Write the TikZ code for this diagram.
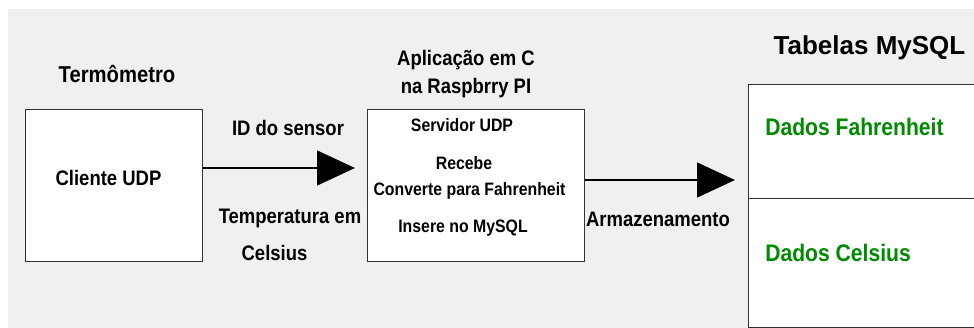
\documentclass[tikz,border=0pt]{standalone}
\usepackage{fontspec}
\setmainfont{Liberation Sans}[FakeStretch=0.88]
\newfontfamily\widefont{Liberation Sans}
\usetikzlibrary{arrows.meta, positioning}
\definecolor{cbg}{HTML}{F0F0F0}
\definecolor{cline}{HTML}{333333}
\definecolor{cgreen}{HTML}{008A00}
\tikzset{
  every picture/.style={font=\bfseries, x=0.75pt, y=-0.75pt},
  box/.style={draw=cline, fill=white, line width=1.1pt, anchor=north west, inner sep=0pt},
  flow/.style={-{Triangle[length=28.5pt, width=26pt]}, draw=black, line width=2pt},
  label/.style={font=\fontsize{15.75}{18}\selectfont\bfseries, anchor=base, inner sep=0pt},
  inner/.style={font=\fontsize{13.5}{16}\selectfont\bfseries, anchor=base, inner sep=0pt},
  title/.style={font=\fontsize{17.25}{20}\selectfont\bfseries, anchor=base, inner sep=0pt},
  tabtitle/.style={font=\widefont\fontsize{19.5}{22}\selectfont\bfseries, anchor=base, inner sep=0pt},
  data/.style={font=\fontsize{18}{21}\selectfont\bfseries, text=cgreen, anchor=base west, inner sep=0pt},
}

\begin{document}
\begin{tikzpicture}
  \useasboundingbox (0,0) rectangle (974,328);
  \clip (0,0) rectangle (974,328);
  \fill[cbg] (8,9) rectangle (974,328);

  \node[box, minimum width=132.75pt, minimum height=114pt] (client) at (25,109) {};
  \node[title] (termo) at (117,83) {Termômetro};
  \node[label] (clientlbl) at (108.5,185) {Cliente UDP};

  \node[box, minimum width=162.75pt, minimum height=114pt] (app) at (367,109) {};
  \node[label] (app1) at (466,65) {Aplicação em C};
  \node[label] (app2) at (466,93.3) {na Raspbrry PI};
  \node[inner] (srv) at (462,131.7) {Servidor UDP};
  \node[inner] (rcv) at (464,169.3) {Recebe};
  \node[inner] (conv) at (469.5,195) {Converte para Fahrenheit};
  \node[inner] (ins) at (463,232.7) {Insere no MySQL};

  \node[box, minimum width=189pt, minimum height=85.5pt] (fahr) at (748,84) {};
  \node[box, minimum width=189pt, minimum height=96.75pt] (cels) at (748,198) {};
  \node[tabtitle] (tabs) at (869.5,55) {Tabelas MySQL};
  \node[data] (fahrlbl) at (765,135) {Dados Fahrenheit};
  \node[data] (celslbl) at (765,261.7) {Dados Celsius};

  \coordinate (idtip) at (355,168);
  \draw[flow] (client.east |- idtip) -- (idtip);
  \node[label] (idlbl) at (288,135) {ID do sensor};
  \node[label] (templbl) at (290,223) {Temperatura em};
  \node[label] (celsius) at (274.5,260) {Celsius};

  \coordinate (sttip) at (735,180);
  \draw[flow] (app.east |- sttip) -- (sttip);
  \node[label] (storelbl) at (658,226.7) {Armazenamento};
\end{tikzpicture}
\end{document}
